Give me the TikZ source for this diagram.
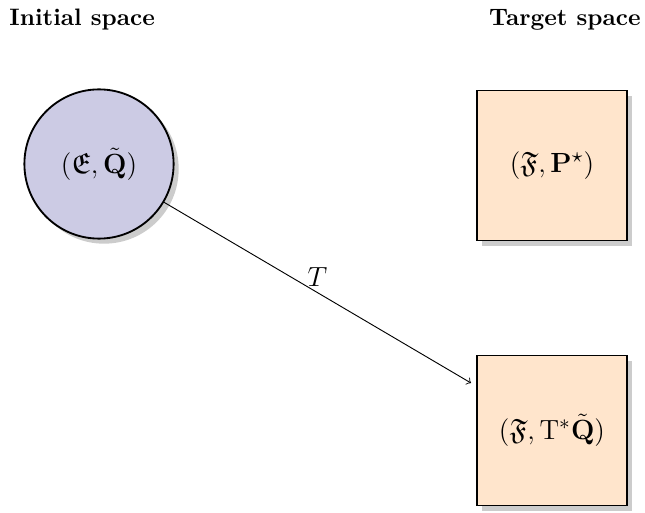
\documentclass[tikz,border=0pt]{standalone}
\usepackage{amsmath,amssymb}
\usetikzlibrary{shadows}
\definecolor{circfill}{RGB}{204,203,228}
\definecolor{boxfill}{RGB}{255,229,204}
\begin{document}
\begin{tikzpicture}[x=0.4329pt,y=-0.4329pt,
  titletext/.style={font=\fontsize{10.3}{12}\selectfont\bfseries, inner sep=0pt},
  mathlabel/.style={font=\fontsize{12.7}{15}\selectfont},
  myshadow/.style={drop shadow={shadow xshift=2.2pt, shadow yshift=-2.2pt, opacity=.4}},
  spacecirc/.style={circle, draw, thick, fill=circfill, minimum size=64.6pt, inner sep=0pt, myshadow, mathlabel},
  spacebox/.style={rectangle, draw, thick, fill=boxfill, minimum size=64.9pt, inner sep=0pt, myshadow, mathlabel}]
\useasboundingbox (0,0) rectangle (645,513);
\node[titletext, anchor=base west] (t1) at (9,26) {Initial space};
\node[titletext, anchor=base east] (t2) at (641,26) {Target space};
\node[spacecirc] (c) at (99,164) {$(\mathfrak{E},\tilde{\mathbf{Q}})$};
\node[spacebox] (b1) at (552,165.5) {$(\mathfrak{F},\mathbf{P}^\star)$};
\node[spacebox] (b2) at (552,430.5) {$(\mathfrak{F},\mathrm{T}^*\tilde{\mathbf{Q}})$};
\coordinate (tip) at (471,383);
\draw[->] (c) -- (tip) node[midway, above, mathlabel, inner sep=2.5pt] (lab) {$T$};
\end{tikzpicture}
\end{document}
